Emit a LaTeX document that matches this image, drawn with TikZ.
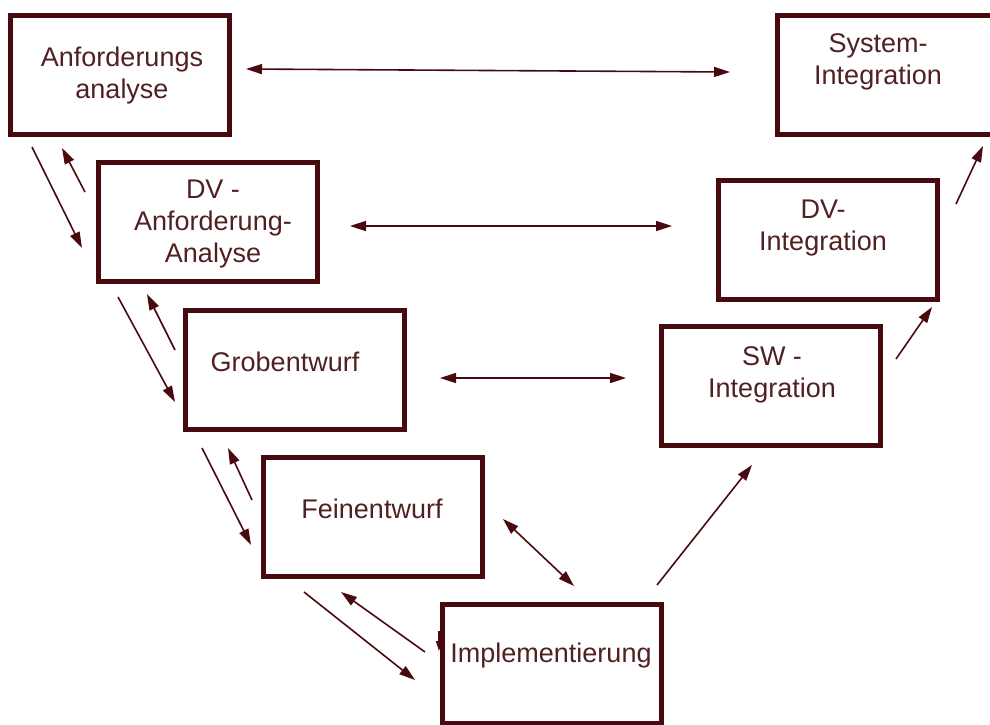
\documentclass[tikz,border=0pt]{standalone}
\usepackage{fontspec}
\setmainfont{Liberation Sans}
\usepackage{xcolor}
\usepackage{tikz}
\usetikzlibrary{arrows.meta,positioning}
\definecolor{maroon}{RGB}{72,10,14}
\definecolor{rosewood}{RGB}{80,32,34}

\begin{document}
\begin{tikzpicture}[x=1pt,y=-1pt,
    phase/.style={draw=maroon, line width=5pt, minimum width=219pt, minimum height=119pt, inner sep=0pt},
    caption/.style={text=rosewood, font=\fontsize{27}{32}\selectfont, align=center, inner sep=0pt},
    flow/.style={maroon, line width=1.6pt, -{Triangle[length=16pt,width=10pt]}},
    twoway/.style={flow, {Triangle[length=16pt,width=10pt]}-{Triangle[length=16pt,width=10pt]}}]
    \useasboundingbox (0,0) rectangle (990,724);

    % Left branch of the V
    \node[phase] (anf) at (120,75) {};
    \node[caption] (anftext) at ([shift={(2,1)}]anf.center) {Anforderungs\\analyse};
    \node[phase] (dva) at (208,222) {};
    \node[caption] (dvatext) at ([shift={(5,2)}]dva.center) {DV -\\Anforderung-\\Analyse};
    \node[phase] (grob) at (295,370) {};
    \node[caption] (grobtext) at ([shift={(-10,-8)}]grob.center) {Grobentwurf};
    \node[phase] (fein) at (373,517) {};
    \node[caption] (feintext) at ([shift={(-1,-8)}]fein.center) {Feinentwurf};

    % Bottom of the V
    \node[phase] (impl) at (552,664) {};
    \node[caption] (impltext) at ([shift={(-1,-8)}]impl.center) {Implementierung};

    % Right branch of the V
    \node[phase] (sw) at (771,386) {};
    \node[caption] (swtext) at ([shift={(1,-11)}]sw.center) {SW -\\Integration};
    \node[phase] (dvi) at (828,240) {};
    \node[caption] (dvitext) at ([shift={(-5,-12)}]dvi.center) {DV-\\Integration};
    \node[phase] (sys) at (887,75) {};
    \node[caption] (systext) at ([shift={(-9,-13)}]sys.center) {System-\\Integration};

    % Down and back up the left branch
    \draw[flow] ([shift={(24,10)}]anf.south west) -- ([shift={(-14,26)}]dva.west);
    \draw[flow] ([shift={(-11,-30)}]dva.west) -- ([shift={(54,11)}]anf.south west);
    \draw[flow] ([shift={(22,13)}]dva.south west) -- ([shift={(-8,32)}]grob.west);
    \draw[flow] ([shift={(-8,-20)}]grob.west) -- ([shift={(51,10)}]dva.south west);
    \draw[flow] ([shift={(19,16)}]grob.south west) -- ([shift={(-10,28)}]fein.west);
    \draw[flow] ([shift={(-9,-17)}]fein.west) -- ([shift={(45,16)}]grob.south west);
    \draw[flow] ([shift={(43,13)}]fein.south west) -- ([shift={(-25,16)}]impl.west);
    \draw[flow] ([shift={(-15,-12)}]impl.west) -- ([shift={(80,13)}]fein.south west);
    \draw[maroon, line width=1.2pt, -{Triangle[length=10pt,width=6pt]}] ([shift={(-1,-33)}]impl.west) -- ([shift={(-1,-13)}]impl.west);

    % Across the V
    \draw[twoway] ([shift={(14,-6)}]anf.east) -- ([shift={(-45,-3)}]sys.west);
    \draw[twoway] ([shift={(30,4)}]dva.east) -- ([shift={(-44,-14)}]dvi.west);
    \draw[twoway] ([shift={(33,8)}]grob.east) -- ([shift={(-33,-8)}]sw.west);
    \draw[twoway] ([shift={(18,2)}]fein.east) -- ([shift={(22,-16)}]impl.north);

    % Up the right branch
    \draw[flow] ([shift={(105,-17)}]impl.north) -- ([shift={(-19,17)}]sw.south);
    \draw[flow] ([shift={(13,35)}]sw.north east) -- ([shift={(-8,5)}]dvi.south east);
    \draw[flow] ([shift={(16,26)}]dvi.north east) -- ([shift={(96,9)}]sys.south);
\end{tikzpicture}
\end{document}
